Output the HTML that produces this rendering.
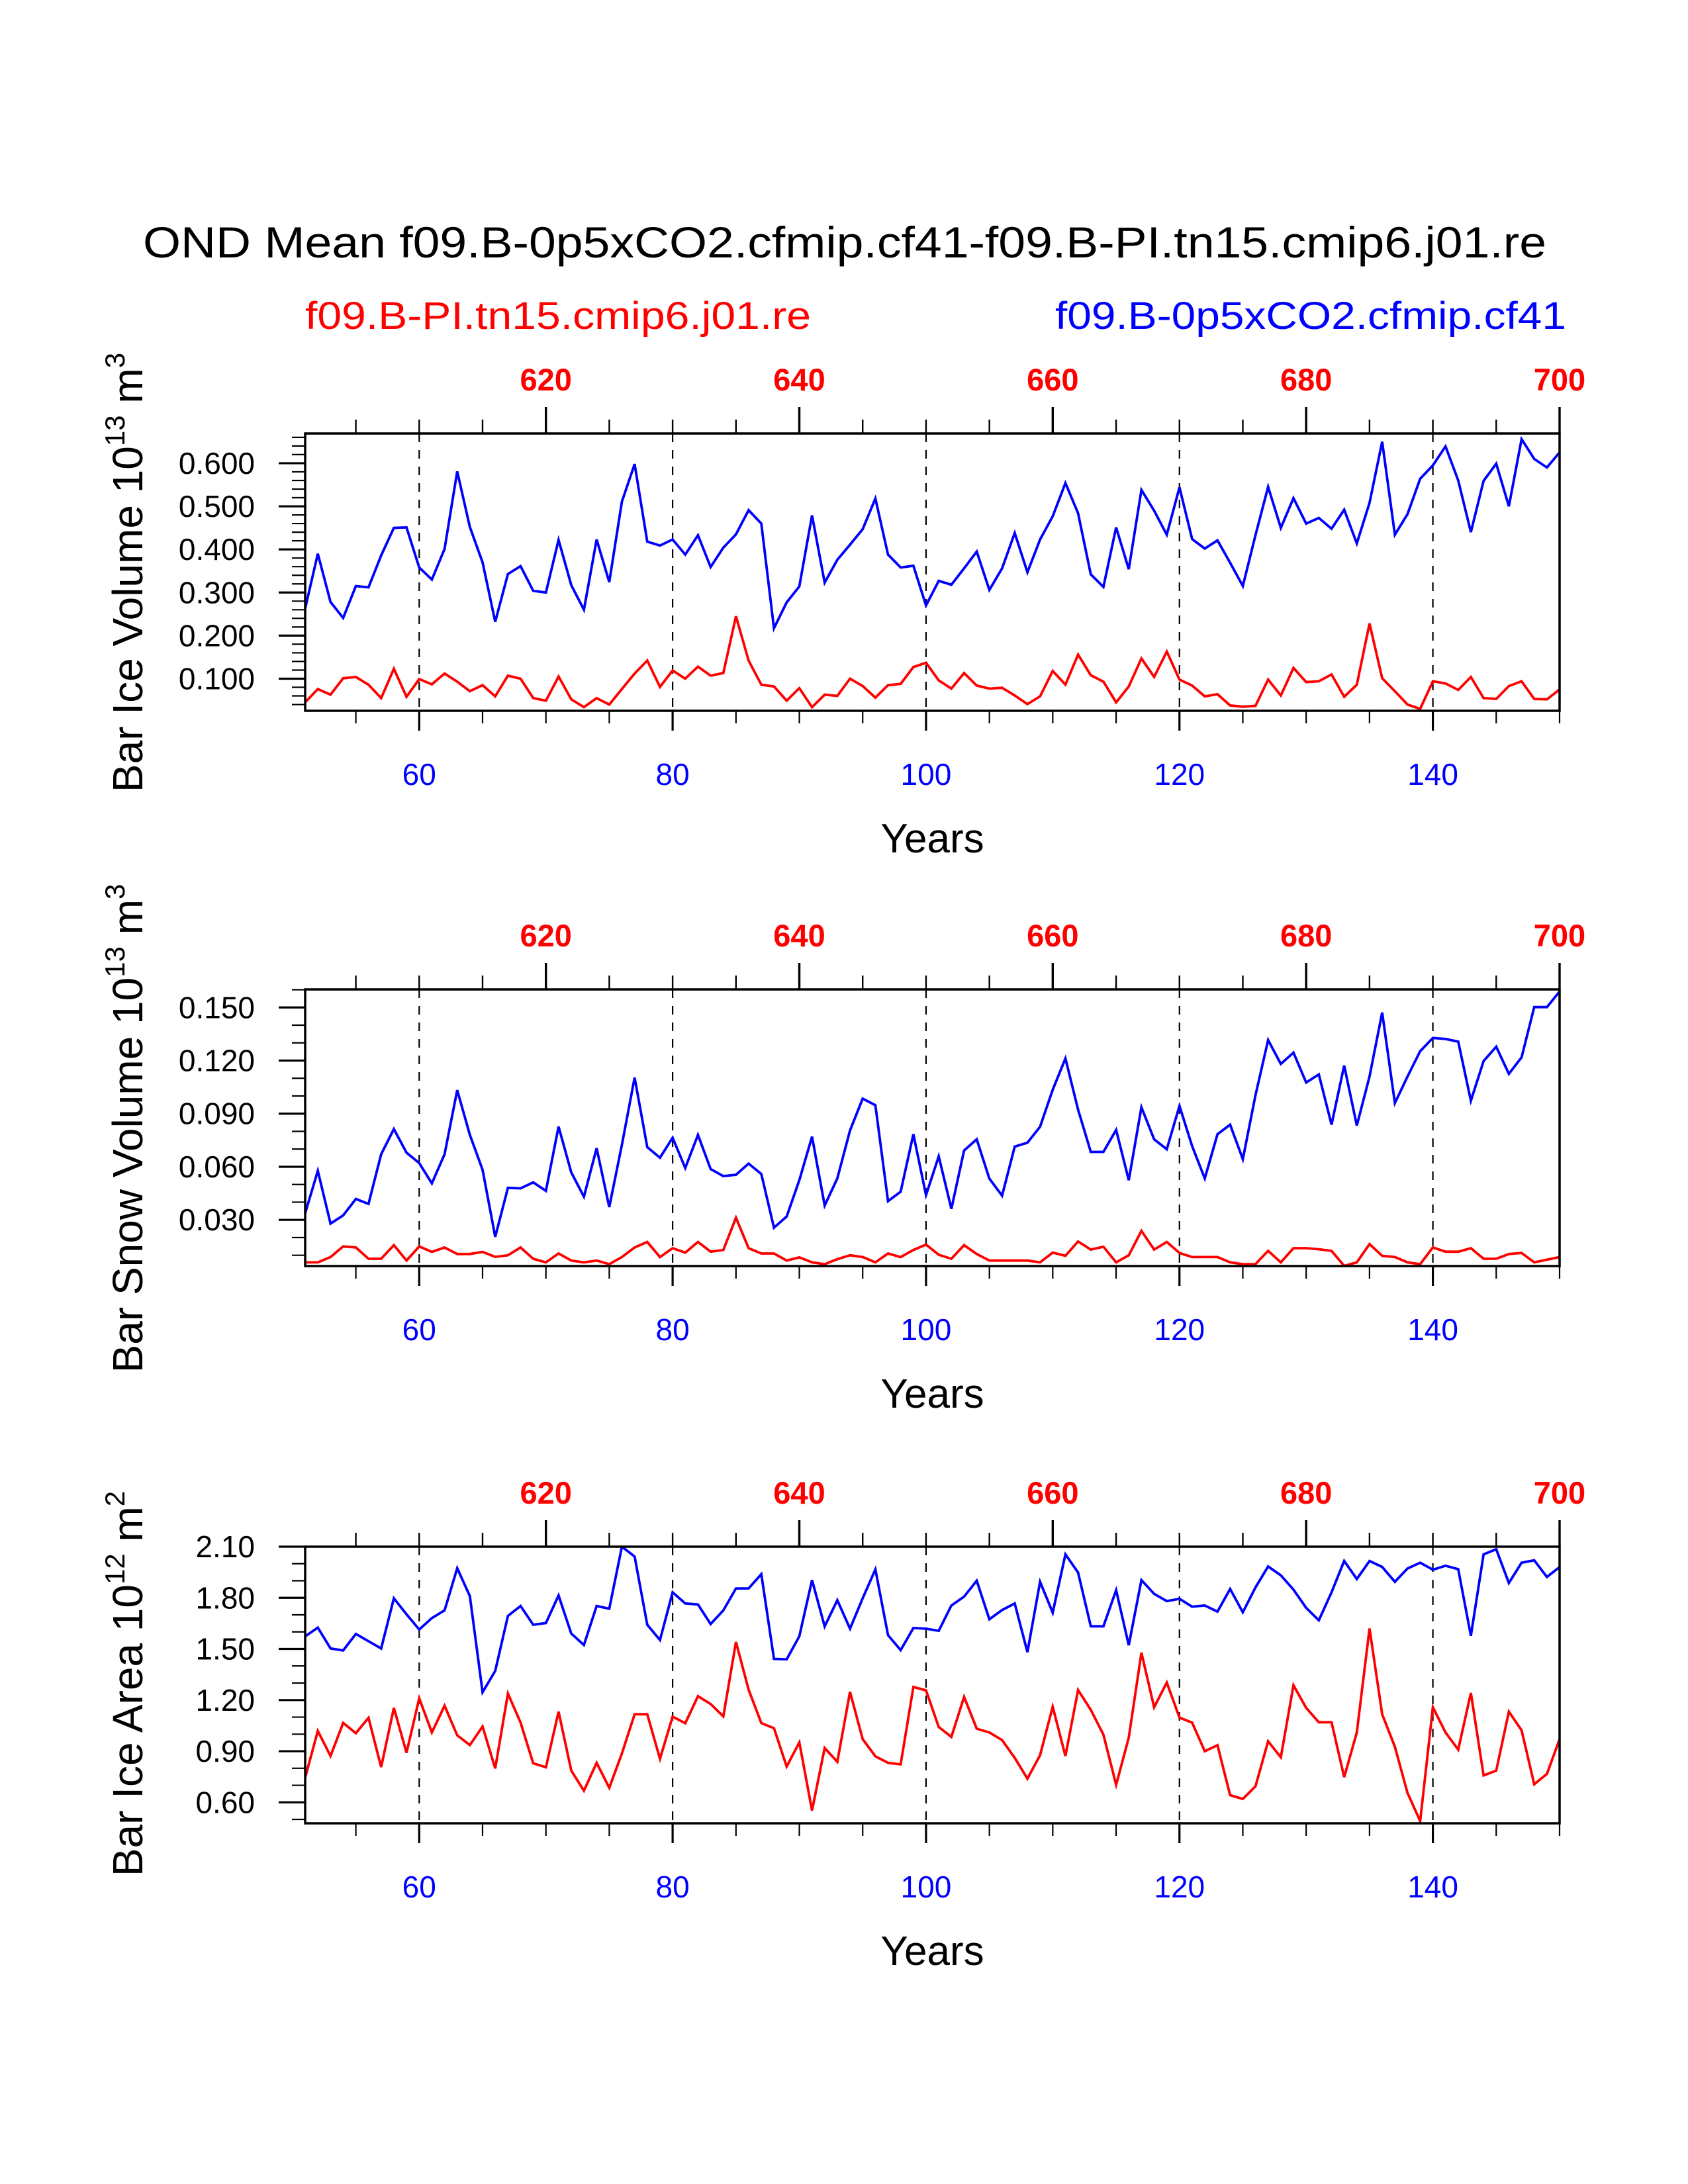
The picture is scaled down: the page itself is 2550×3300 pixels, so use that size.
<!DOCTYPE html>
<html><head><meta charset="utf-8"><style>
html,body{margin:0;padding:0;background:#fff}
svg{display:block}
text{font-family:"Liberation Sans",Arial,sans-serif}
</style></head><body>
<svg id="chart" xmlns="http://www.w3.org/2000/svg" width="2550" height="3300" viewBox="0 0 2550 3300">
<rect width="2550" height="3300" fill="#fff"/>
<text x="1276" y="389" font-size="66" text-anchor="middle" textLength="2120" lengthAdjust="spacingAndGlyphs">OND Mean f09.B-0p5xCO2.cfmip.cf41-f09.B-PI.tn15.cmip6.j01.re</text>
<text x="461" y="497" font-size="58" fill="#ff0000" textLength="764" lengthAdjust="spacingAndGlyphs">f09.B-PI.tn15.cmip6.j01.re</text>
<text x="2366" y="497" font-size="58" fill="#0000ff" text-anchor="end" textLength="772" lengthAdjust="spacingAndGlyphs">f09.B-0p5xCO2.cfmip.cf41</text>
<g id="panels"></g>
</svg>
<script>
const years = [];
for (let y = 51; y <= 150; y++) years.push(y);

const iceVolRed = [0.045,0.076,0.063,0.101,0.104,0.086,0.055,0.123,0.058,0.099,0.087,0.112,0.093,0.071,0.085,0.059,0.107,0.100,0.055,0.049,0.105,0.052,0.034,0.055,0.040,0.076,0.112,0.142,0.081,0.119,0.100,0.128,0.107,0.113,0.245,0.142,0.086,0.082,0.049,0.078,0.034,0.063,0.060,0.100,0.083,0.056,0.085,0.088,0.127,0.137,0.096,0.077,0.113,0.084,0.077,0.079,0.061,0.041,0.059,0.118,0.086,0.156,0.108,0.093,0.045,0.082,0.147,0.104,0.163,0.098,0.084,0.059,0.064,0.038,0.035,0.037,0.098,0.061,0.125,0.092,0.094,0.110,0.058,0.086,0.228,0.101,0.071,0.040,0.030,0.094,0.089,0.074,0.104,0.055,0.053,0.083,0.094,0.053,0.052,0.075];
const iceVolBlue = [0.263,0.390,0.278,0.241,0.315,0.312,0.386,0.450,0.451,0.358,0.330,0.401,0.581,0.452,0.370,0.232,0.343,0.361,0.304,0.300,0.422,0.317,0.260,0.423,0.324,0.511,0.598,0.418,0.409,0.423,0.388,0.433,0.359,0.404,0.435,0.491,0.460,0.217,0.277,0.314,0.479,0.323,0.376,0.411,0.447,0.518,0.388,0.358,0.362,0.270,0.327,0.318,0.356,0.395,0.306,0.356,0.438,0.347,0.423,0.477,0.554,0.484,0.342,0.313,0.451,0.354,0.538,0.490,0.434,0.544,0.424,0.402,0.421,0.369,0.315,0.433,0.545,0.450,0.519,0.460,0.473,0.448,0.492,0.414,0.508,0.650,0.434,0.482,0.564,0.595,0.639,0.560,0.440,0.559,0.599,0.500,0.656,0.610,0.590,0.625];

const snowVolRed = [0.006,0.006,0.009,0.0150,0.0144,0.008,0.008,0.0157,0.007,0.015,0.0119,0.0144,0.0107,0.0107,0.0119,0.0091,0.010,0.0144,0.008,0.006,0.011,0.007,0.006,0.007,0.005,0.009,0.0144,0.0175,0.009,0.014,0.0115,0.0175,0.012,0.013,0.0312,0.014,0.011,0.011,0.007,0.0088,0.006,0.005,0.0078,0.010,0.009,0.006,0.011,0.009,0.013,0.016,0.0103,0.008,0.0157,0.0107,0.007,0.007,0.007,0.007,0.006,0.0115,0.0097,0.0178,0.0132,0.0148,0.006,0.010,0.0238,0.0132,0.0175,0.0113,0.009,0.009,0.009,0.006,0.005,0.005,0.0125,0.006,0.014,0.014,0.0134,0.0125,0.004,0.006,0.0163,0.0097,0.009,0.006,0.005,0.0144,0.012,0.012,0.014,0.008,0.008,0.0107,0.0113,0.006,0.0075,0.009];
const snowVolBlue = [0.0337,0.0577,0.0279,0.0325,0.0418,0.0390,0.0671,0.0813,0.0680,0.0621,0.0506,0.0671,0.1033,0.0780,0.0583,0.0204,0.0481,0.0478,0.0512,0.0464,0.0827,0.0568,0.0431,0.0705,0.0372,0.0724,0.1104,0.0711,0.0651,0.0764,0.0593,0.0780,0.0587,0.0547,0.0555,0.0618,0.0559,0.0256,0.0319,0.0524,0.0770,0.0381,0.0534,0.0805,0.0985,0.0948,0.0406,0.0459,0.0784,0.0440,0.0659,0.0362,0.0692,0.0755,0.0533,0.0437,0.0714,0.0736,0.0826,0.1035,0.1212,0.0923,0.0684,0.0684,0.0808,0.0524,0.0936,0.0755,0.0699,0.0944,0.0717,0.0534,0.0784,0.0838,0.0643,0.1004,0.1316,0.1181,0.1245,0.1076,0.1122,0.0838,0.1172,0.0833,0.1110,0.1471,0.0960,0.1110,0.1253,0.1328,0.1322,0.1307,0.0973,0.1197,0.1278,0.1125,0.1218,0.1502,0.1502,0.159];

const iceAreaRed = [0.745,1.019,0.872,1.066,1.006,1.096,0.807,1.154,0.891,1.210,1.010,1.167,0.993,0.936,1.045,0.799,1.238,1.068,0.829,0.806,1.132,0.786,0.668,0.832,0.685,0.887,1.117,1.117,0.855,1.103,1.064,1.223,1.177,1.104,1.541,1.261,1.065,1.035,0.810,0.952,0.552,0.919,0.838,1.248,0.971,0.870,0.832,0.823,1.277,1.257,1.042,0.984,1.219,1.032,1.010,0.965,0.861,0.739,0.877,1.161,0.872,1.259,1.143,0.997,0.703,0.980,1.478,1.158,1.303,1.097,1.068,0.900,0.935,0.642,0.620,0.694,0.958,0.864,1.287,1.154,1.070,1.070,0.748,1.010,1.620,1.117,0.926,0.655,0.490,1.158,1.010,0.909,1.242,0.758,0.786,1.132,1.023,0.706,0.767,0.970];
const iceAreaBlue = [1.574,1.625,1.503,1.491,1.588,1.545,1.503,1.797,1.703,1.614,1.681,1.726,1.974,1.810,1.246,1.371,1.694,1.752,1.642,1.652,1.814,1.590,1.523,1.752,1.736,2.100,2.042,1.642,1.552,1.832,1.767,1.761,1.646,1.726,1.855,1.855,1.939,1.442,1.439,1.574,1.904,1.632,1.786,1.619,1.797,1.967,1.581,1.493,1.623,1.619,1.606,1.755,1.807,1.900,1.674,1.728,1.767,1.481,1.894,1.713,2.055,1.948,1.633,1.633,1.845,1.522,1.904,1.823,1.781,1.794,1.748,1.755,1.719,1.852,1.715,1.861,1.984,1.932,1.848,1.741,1.668,1.832,2.016,1.910,2.016,1.981,1.894,1.972,2.006,1.965,1.988,1.968,1.577,2.055,2.085,1.887,2.006,2.020,1.922,1.980];

const bottomTickLabels = ["60","80","100","120","140"];
const topTickLabels = ["620","640","660","680","700"];
const iceVolTicks = ["0.100","0.200","0.300","0.400","0.500","0.600"];
const snowVolTicks = ["0.030","0.060","0.090","0.120","0.150"];
const iceAreaTicks = ["0.60","0.90","1.20","1.50","1.80","2.10"];

const NS = "http://www.w3.org/2000/svg";
const X0 = 461, X1 = 2356, YR0 = 51, YR1 = 150;
function xScale(yr){ return X0 + (yr - YR0) / (YR1 - YR0) * (X1 - X0); }
function mk(tag, attrs, parent){
  const e = document.createElementNS(NS, tag);
  for (const k in attrs) e.setAttribute(k, attrs[k]);
  parent.appendChild(e);
  return e;
}
const root = document.getElementById("panels");

function panel(cfg){
  const g = mk("g", {}, root);
  
  
  const top = cfg.top, bot = cfg.bot;
  const yScale = v => bot - (v - cfg.vmin) / (cfg.vmax - cfg.vmin) * (bot - top);

  const cid = "clip-" + cfg.name;
  const cp = mk("clipPath", {id: cid}, g);
  mk("rect", {x: X0, y: top, width: X1 - X0, height: bot - top}, cp);

  for (const lab of bottomTickLabels){
    const x = xScale(+lab);
    const l = mk("line", {x1:x, x2:x, y1:top, y2:bot, stroke:"#000", "stroke-width":2.2, "stroke-dasharray":"13 12"}, g);
    
    
  }

  function series(vals, color, nm){
    const pts = vals.map((v,i)=> xScale(years[i]).toFixed(1) + "," + yScale(v).toFixed(1)).join(" ");
    const p = mk("polyline", {points: pts, fill:"none", stroke: color, "stroke-width": 3.8, "stroke-linejoin":"miter", "clip-path": "url(#" + cid + ")"}, g);
    
    
  }
  series(cfg.red, "#ff0000", cfg.name + "-red-series");
  series(cfg.blue, "#0000ff", cfg.name + "-blue-series");

  const fr = mk("rect", {x:X0, y:top, width:X1-X0, height:bot-top, fill:"none", stroke:"#000", "stroke-width":3.5}, g);
  
  

  for (let yr = 55; yr <= 150; yr += 5){
    const x = xScale(yr);
    const majB = (yr % 20 === 0);
    mk("line", {x1:x, x2:x, y1:bot, y2:bot + (majB ? 30 : 19), stroke:"#000", "stroke-width": majB?3.2:2.2}, g);
    const majT = ((yr - 10) % 20 === 0);
    mk("line", {x1:x, x2:x, y1:top, y2:top - (majT ? 40 : 21), stroke:"#000", "stroke-width": majT?3.4:2.4}, g);
  }
  bottomTickLabels.forEach(lab=>{
    const t = mk("text", {x: xScale(+lab), y: bot + 112, "font-size": 46, fill:"#0000ff", "text-anchor":"middle"}, g);
    t.textContent = lab;
    
    
  });
  topTickLabels.forEach(lab=>{
    const t = mk("text", {x: xScale(+lab - 550), y: top - 65, "font-size": 47, "font-weight":"bold", fill:"#ff0000", "text-anchor":"middle"}, g);
    t.textContent = lab;
    
    
  });
  const yt = mk("text", {x: (X0+X1)/2, y: bot + 214, "font-size": 62, "text-anchor":"middle"}, g);
  yt.textContent = "Years";
  
  

  for (let v = cfg.minorStart; v <= cfg.vmax + 1e-9; v += cfg.minor){
    const y = yScale(v);
    if (y > bot + 0.5) continue;
    mk("line", {x1:X0, x2:X0-20, y1:y, y2:y, stroke:"#000", "stroke-width":2.2}, g);
  }
  cfg.ticks.forEach(lab=>{
    const y = yScale(+lab);
    mk("line", {x1:X0, x2:X0-40, y1:y, y2:y, stroke:"#000", "stroke-width":3.2}, g);
    const t = mk("text", {x: 385, y: y + 16, "font-size": 46, "text-anchor":"end"}, g);
    t.textContent = lab;
    
    
  });

  const tt = mk("text", {x:0, y:0, "font-size":64, "text-anchor":"middle", transform:"translate(215," + cfg.titleY + ") rotate(-90)"}, g);
  
  
  const parts = [[cfg.title + " 10",0,64],[cfg.exp,-27,42],[" m",27,64],[cfg.unitExp,-27,42]];
  parts.forEach(p=>{
    const s = mk("tspan", {dy:p[1], "font-size":p[2]}, tt);
    s.textContent = p[0];
  });
}

panel({name:"ice-volume-panel", top:655, bot:1074, vmin:0.0255, vmax:0.669, red:iceVolRed, blue:iceVolBlue,
  ticks:iceVolTicks, minor:0.02, minorStart:0.04, title:"Bar Ice Volume", exp:"13", unitExp:"3", titleY:865});
panel({name:"snow-volume-panel", top:1495, bot:1913, vmin:0.0039, vmax:0.1602, red:snowVolRed, blue:snowVolBlue,
  ticks:snowVolTicks, minor:0.01, minorStart:0.01, title:"Bar Snow Volume", exp:"13", unitExp:"3", titleY:1705});
panel({name:"ice-area-panel", top:2337, bot:2755, vmin:0.477, vmax:2.10, red:iceAreaRed, blue:iceAreaBlue,
  ticks:iceAreaTicks, minor:0.1, minorStart:0.5, title:"Bar Ice Area", exp:"12", unitExp:"2", titleY:2544});
</script>
</body></html>
